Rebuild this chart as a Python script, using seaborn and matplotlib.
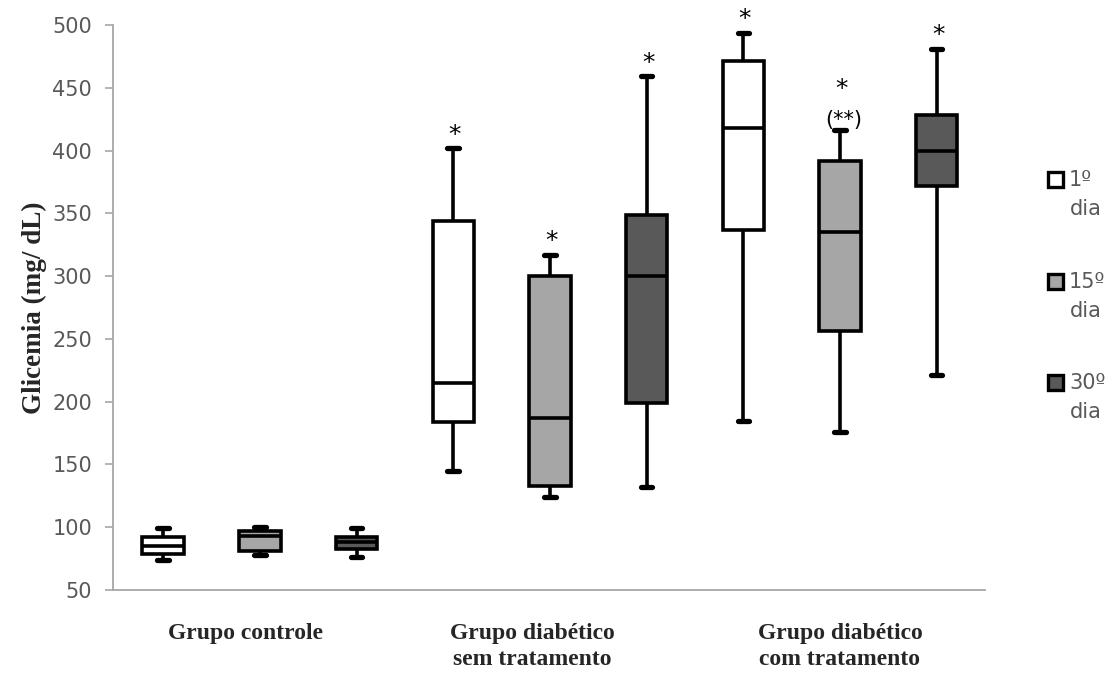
import numpy as np
import pandas as pd
import matplotlib
matplotlib.use("Agg")
import matplotlib.pyplot as plt
import seaborn as sns
from matplotlib.patches import Rectangle

# ---------------- data ----------------
group_labels = ["Grupo controle", "Grupo diabético\nsem tratamento", "Grupo diabético\ncom tratamento"]
days = ["1º dia", "15º dia", "30º dia"]
box_ids = ["C1", "C15", "C30", "S1", "S15", "S30", "T1", "T15", "T30"]
box_day = ["1º dia", "15º dia", "30º dia"] * 3

whisker_low = [74, 78, 76, 145, 124, 132, 185, 176, 221]
q1 = [79, 81, 83, 184, 133, 199, 337, 256, 372]
median = [85, 93, 88, 215, 187, 300, 418, 335, 400]
q3 = [92, 97, 92, 344, 300, 349, 471, 392, 428]
whisker_high = [99, 100, 99, 402, 317, 459, 494, 416, 481]

sig_main = ["", "", "", "*", "*", "*", "*", "*", "*"]
sig_extra = ["", "", "", "", "", "", "", "(**)", ""]

y_ticks = [50, 100, 150, 200, 250, 300, 350, 400, 450, 500]
palette = {"1º dia": "#FFFFFF", "15º dia": "#A6A6A6", "30º dia": "#595959"}

# long-form table: the five summary values of every box
rows = []
for i, b in enumerate(box_ids):
    for v in (whisker_low[i], q1[i], median[i], q3[i], whisker_high[i]):
        rows.append({"box": b, "dia": box_day[i], "glicemia": v})
df = pd.DataFrame(rows)

# ---------------- style ----------------
sns.set_style("white")
plt.rcParams["font.family"] = ["DejaVu Sans"]

fig = plt.figure(figsize=(11.12, 6.75), dpi=100)
ax = fig.add_axes([113 / 1112, 1 - 590 / 675, (985 - 113) / 1112, (590 - 25) / 675])

sns.boxplot(
    data=df, x="box", y="glicemia", hue="dia", order=box_ids, hue_order=days,
    palette=palette, dodge=False, width=0.43, whis=(0, 100), linewidth=2.6,
    linecolor="black", capwidths=0.12, legend=False, ax=ax,
    capprops=dict(linewidth=3.8),
)

ax.set_xlim(-0.52, 8.5)
ax.set_ylim(50, 500)
ax.set_yticks(y_ticks)
ax.set_yticklabels([str(t) for t in y_ticks], fontsize=15, color="#595959")
ax.set_xticks(list(range(9)) + [8.5])
ax.set_xticklabels([""] * 10)
ax.tick_params(axis="x", direction="inout", length=12, width=1.2, color="#A6A6A6")
ax.tick_params(axis="y", direction="out", length=6, width=1.2, color="#A6A6A6", pad=9, left=True)
ax.set_xlabel("")
ax.set_ylabel("Glicemia (mg/ dL)", fontsize=19.5, fontweight="bold",
              family="Liberation Serif", labelpad=4)
for s in ("top", "right"):
    ax.spines[s].set_visible(False)
for s in ("left", "bottom"):
    ax.spines[s].set_color("#A6A6A6")
    ax.spines[s].set_linewidth(1.3)

# significance marks
for i in range(9):
    if sig_main[i]:
        off = 21 if sig_extra[i] else 1
        ax.annotate(sig_main[i], (i, whisker_high[i]), xytext=(1, off),
                    textcoords="offset points", ha="center", va="bottom",
                    fontsize=18, color="black")
    if sig_extra[i]:
        ax.annotate(sig_extra[i], (i, whisker_high[i]), xytext=(3, 0),
                    textcoords="offset points", ha="center", va="bottom",
                    fontsize=15, color="black")

# group labels under the axis
label_x = [0.85, 3.82, 7.0]
for gx, lab in zip(label_x, group_labels):
    ax.text(gx, -0.058, lab, transform=ax.get_xaxis_transform(), ha="center", va="top",
            fontsize=17, fontweight="bold", family="Liberation Serif", linespacing=1.3)

# legend on the right
leg_y = [180, 282, 383]
for day, yy in zip(days, leg_y):
    num, word = day.split(" ")
    fig.add_artist(Rectangle((1048 / 1112, 1 - (yy + 7) / 675), 15 / 1112, 15 / 675,
                             transform=fig.transFigure, facecolor=palette[day],
                             edgecolor="black", linewidth=2.4))
    fig.text(1069 / 1112, 1 - yy / 675, num, ha="left", va="center", fontsize=15,
             color="#595959")
    fig.text(1070 / 1112, 1 - (yy + 29) / 675, word, ha="left", va="center", fontsize=15,
             color="#595959")

fig.savefig("out.png", dpi=100)
